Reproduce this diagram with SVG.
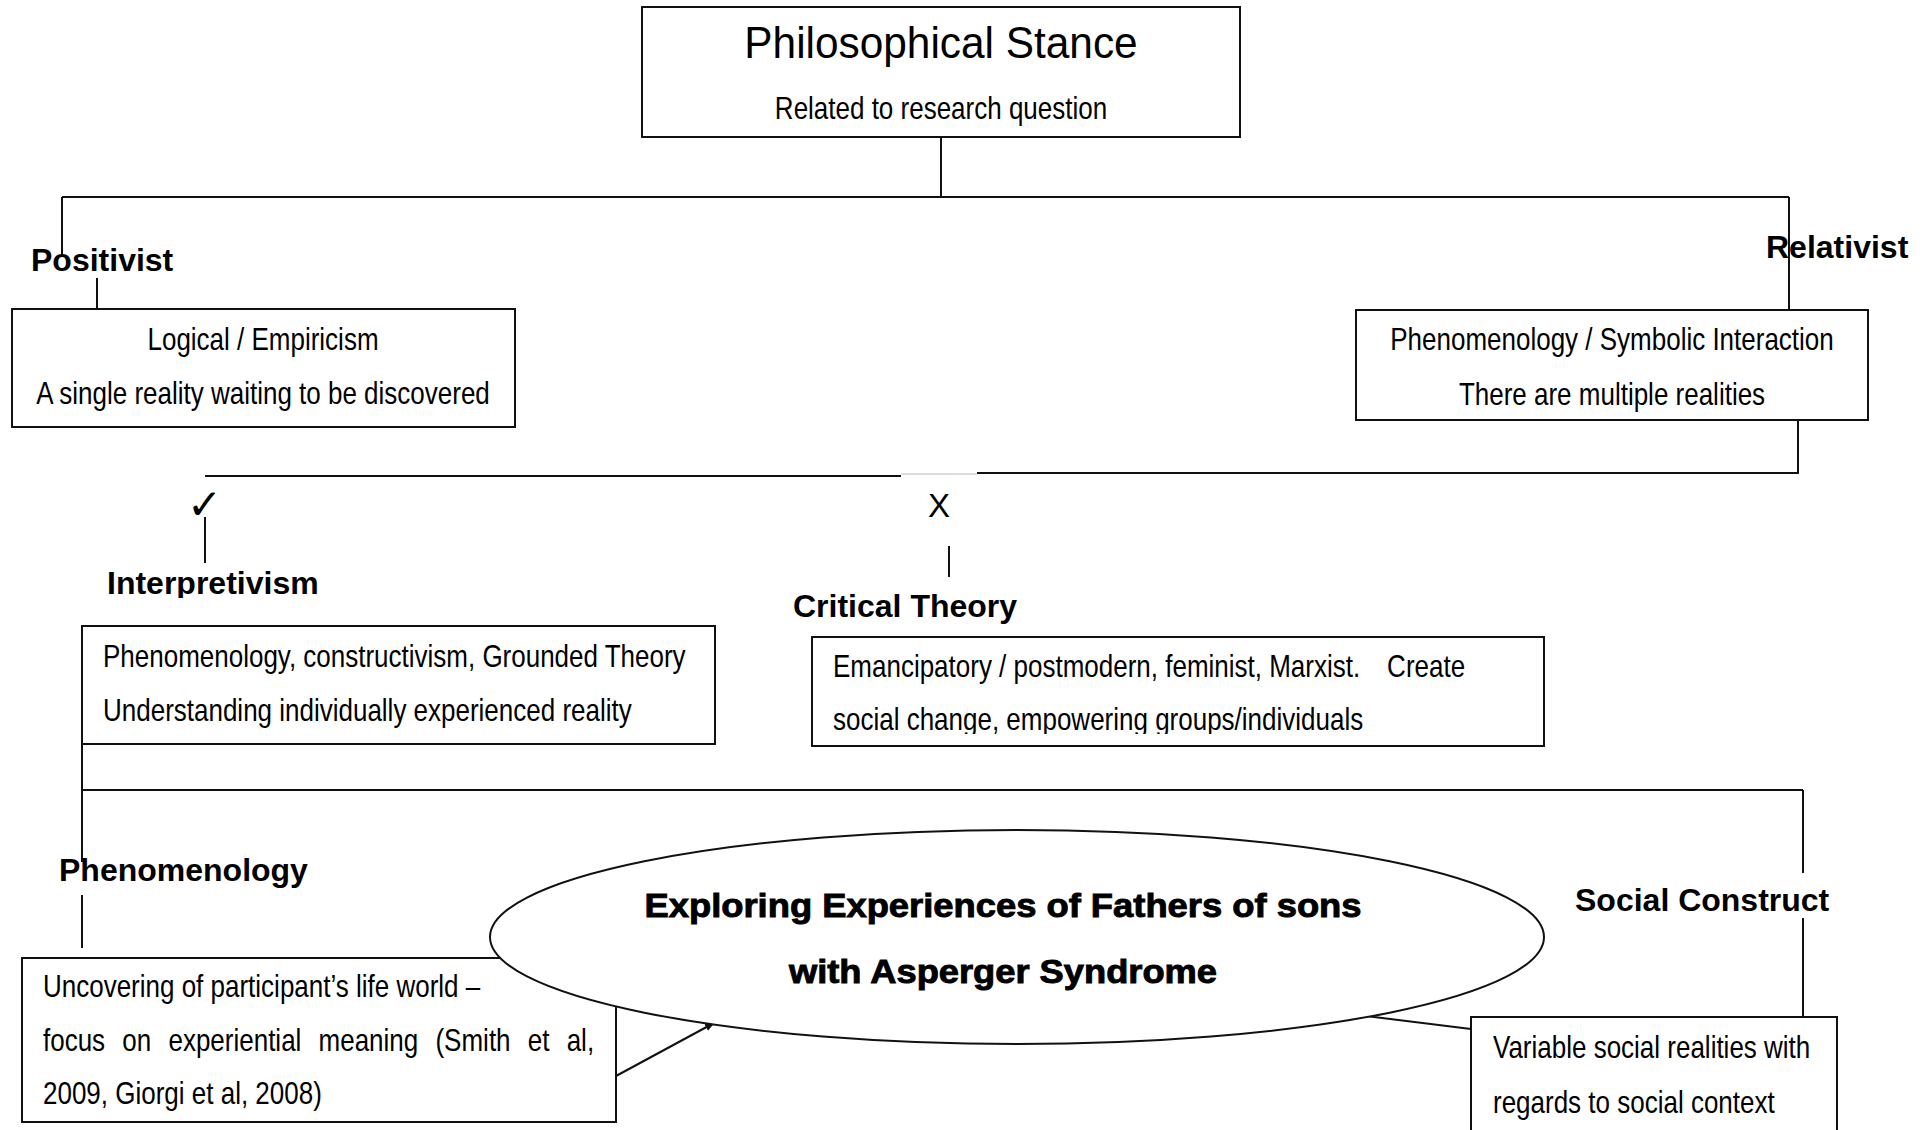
<svg xmlns="http://www.w3.org/2000/svg" width="1932" height="1130" viewBox="0 0 1932 1130">
  <style>
    .box { fill: #fff; stroke: #111; stroke-width: 2; }
    .ln { fill: none; stroke: #111; stroke-width: 2; }
    .faint { fill: none; stroke: #ddd; stroke-width: 2; }
    .t { font-family: "Liberation Sans", Arial, sans-serif; font-size: 32px; fill: #000; }
    .h { font-family: "Liberation Sans", Arial, sans-serif; font-size: 32px; font-weight: bold; fill: #000; }
    .e { font-family: "Liberation Sans", Arial, sans-serif; font-size: 33px; font-weight: bold; fill: #000; stroke: #000; stroke-width: 0.9; }
    .sym { font-family: "DejaVu Sans", sans-serif; fill: #000; }
  </style>
  <defs>
    <marker id="arrow" viewBox="0 0 10 10" refX="9" refY="5" markerWidth="10" markerHeight="10" markerUnits="userSpaceOnUse" orient="auto">
      <path d="M0,1 L10,5 L0,9 z" fill="#111"/>
    </marker>
    <clipPath id="clipInterp"><rect x="0" y="560" width="400" height="38"/></clipPath>
    <clipPath id="clipCritical"><rect x="820" y="700" width="700" height="34"/></clipPath>
  </defs>
  <rect width="1932" height="1130" fill="#fff"/>

  <!-- connectors -->
  <g id="connectors">
    <line class="ln" x1="941" y1="137" x2="941" y2="197"/>
    <line class="ln" x1="62" y1="197" x2="1789" y2="197"/>
    <line class="ln" x1="62" y1="197" x2="62" y2="256"/>
    <line class="ln" x1="97" y1="278" x2="97" y2="309"/>
    <line class="ln" x1="1789" y1="197" x2="1789" y2="310"/>
    <polyline class="ln" points="1798,417 1798,473 977,473"/>
    <line class="faint" x1="901" y1="474" x2="977" y2="474"/>
    <line class="ln" x1="205" y1="476" x2="901" y2="476"/>
    <line class="ln" x1="205" y1="517" x2="205" y2="563"/>
    <line class="ln" x1="949" y1="546" x2="949" y2="577"/>
    <line class="ln" x1="82" y1="744" x2="82" y2="862"/>
    <line class="ln" x1="82" y1="790" x2="1803" y2="790"/>
    <line class="ln" x1="1803" y1="790" x2="1803" y2="873"/>
    <line class="ln" x1="82" y1="895" x2="82" y2="948"/>
    <line class="ln" x1="1803" y1="918" x2="1803" y2="1017"/>
    <line class="ln" x1="616" y1="1076" x2="714" y2="1023" marker-end="url(#arrow)"/>
    <line class="ln" x1="1366" y1="1016" x2="1471" y2="1029" stroke-width="3"/>
  </g>

  <!-- top node -->
  <g id="philosophical-stance">
    <rect class="box" x="642" y="7" width="598" height="130"/>
    <text class="t" transform="translate(941,58) scale(0.963,1)" style="font-size:44px" text-anchor="middle">Philosophical Stance</text>
    <text class="t" transform="translate(941,119) scale(0.8125,1)" text-anchor="middle">Related to research question</text>
  </g>

  <g id="positivist">
    <text class="h" x="31" y="271">Positivist</text>
    <rect class="box" x="12" y="309" width="503" height="118"/>
    <text class="t" transform="translate(263,350) scale(0.8125,1)" text-anchor="middle">Logical / Empiricism</text>
    <text class="t" transform="translate(263,404) scale(0.8125,1)" text-anchor="middle">A single reality waiting to be discovered</text>
  </g>

  <g id="relativist">
    <text class="h" x="1766" y="258">Relativist</text>
    <rect class="box" x="1356" y="310" width="512" height="110"/>
    <text class="t" transform="translate(1612,350) scale(0.8125,1)" text-anchor="middle">Phenomenology / Symbolic Interaction</text>
    <text class="t" transform="translate(1612,405) scale(0.8125,1)" text-anchor="middle">There are multiple realities</text>
  </g>

  <g id="interpretivism">
    <text class="sym" x="187" y="519" style="font-size:42px">✓</text>
    <text class="h" x="107" y="594" clip-path="url(#clipInterp)">Interpretivism</text>
    <rect class="box" x="82" y="626" width="633" height="118"/>
    <text class="t" transform="translate(103,667) scale(0.8125,1)">Phenomenology, constructivism, Grounded Theory</text>
    <text class="t" transform="translate(103,721) scale(0.8125,1)">Understanding individually experienced reality</text>
  </g>

  <g id="critical-theory">
    <text class="t" x="939" y="517" style="font-size:33px" text-anchor="middle">X</text>
    <text class="h" x="793" y="617">Critical Theory</text>
    <rect class="box" x="812" y="637" width="732" height="109"/>
    <text class="t" transform="translate(833,677) scale(0.8125,1)">Emancipatory / postmodern, feminist, Marxist.<tspan x="682">Create</tspan></text>
    <g clip-path="url(#clipCritical)">
      <text class="t" transform="translate(833,730) scale(0.8125,1)">social change, empowering groups/individuals</text>
    </g>
  </g>

  <g id="phenomenology">
    <text class="h" x="59" y="881">Phenomenology</text>
    <rect class="box" x="22" y="958" width="594" height="164"/>
    <text class="t" transform="translate(43,997) scale(0.8125,1)">Uncovering of participant’s life world –</text>
    <text class="t" transform="translate(43,1051) scale(0.8125,1)" word-spacing="12.3">focus on experiential meaning (Smith et al,</text>
    <text class="t" transform="translate(43,1104) scale(0.8125,1)">2009, Giorgi et al, 2008)</text>
  </g>

  <g id="research-topic">
    <ellipse class="box" cx="1017" cy="937" rx="527" ry="107"/>
    <text class="e" x="1003" y="917" text-anchor="middle" textLength="717" lengthAdjust="spacingAndGlyphs">Exploring Experiences of Fathers of sons</text>
    <text class="e" x="1003" y="983" text-anchor="middle" textLength="428" lengthAdjust="spacingAndGlyphs">with Asperger Syndrome</text>
  </g>

  <g id="social-construct">
    <text class="h" x="1575" y="911">Social Construct</text>
    <rect class="box" x="1471" y="1017" width="366" height="125"/>
    <text class="t" transform="translate(1493,1058) scale(0.8125,1)">Variable social realities with</text>
    <text class="t" transform="translate(1493,1113) scale(0.8125,1)">regards to social context</text>
  </g>
</svg>
